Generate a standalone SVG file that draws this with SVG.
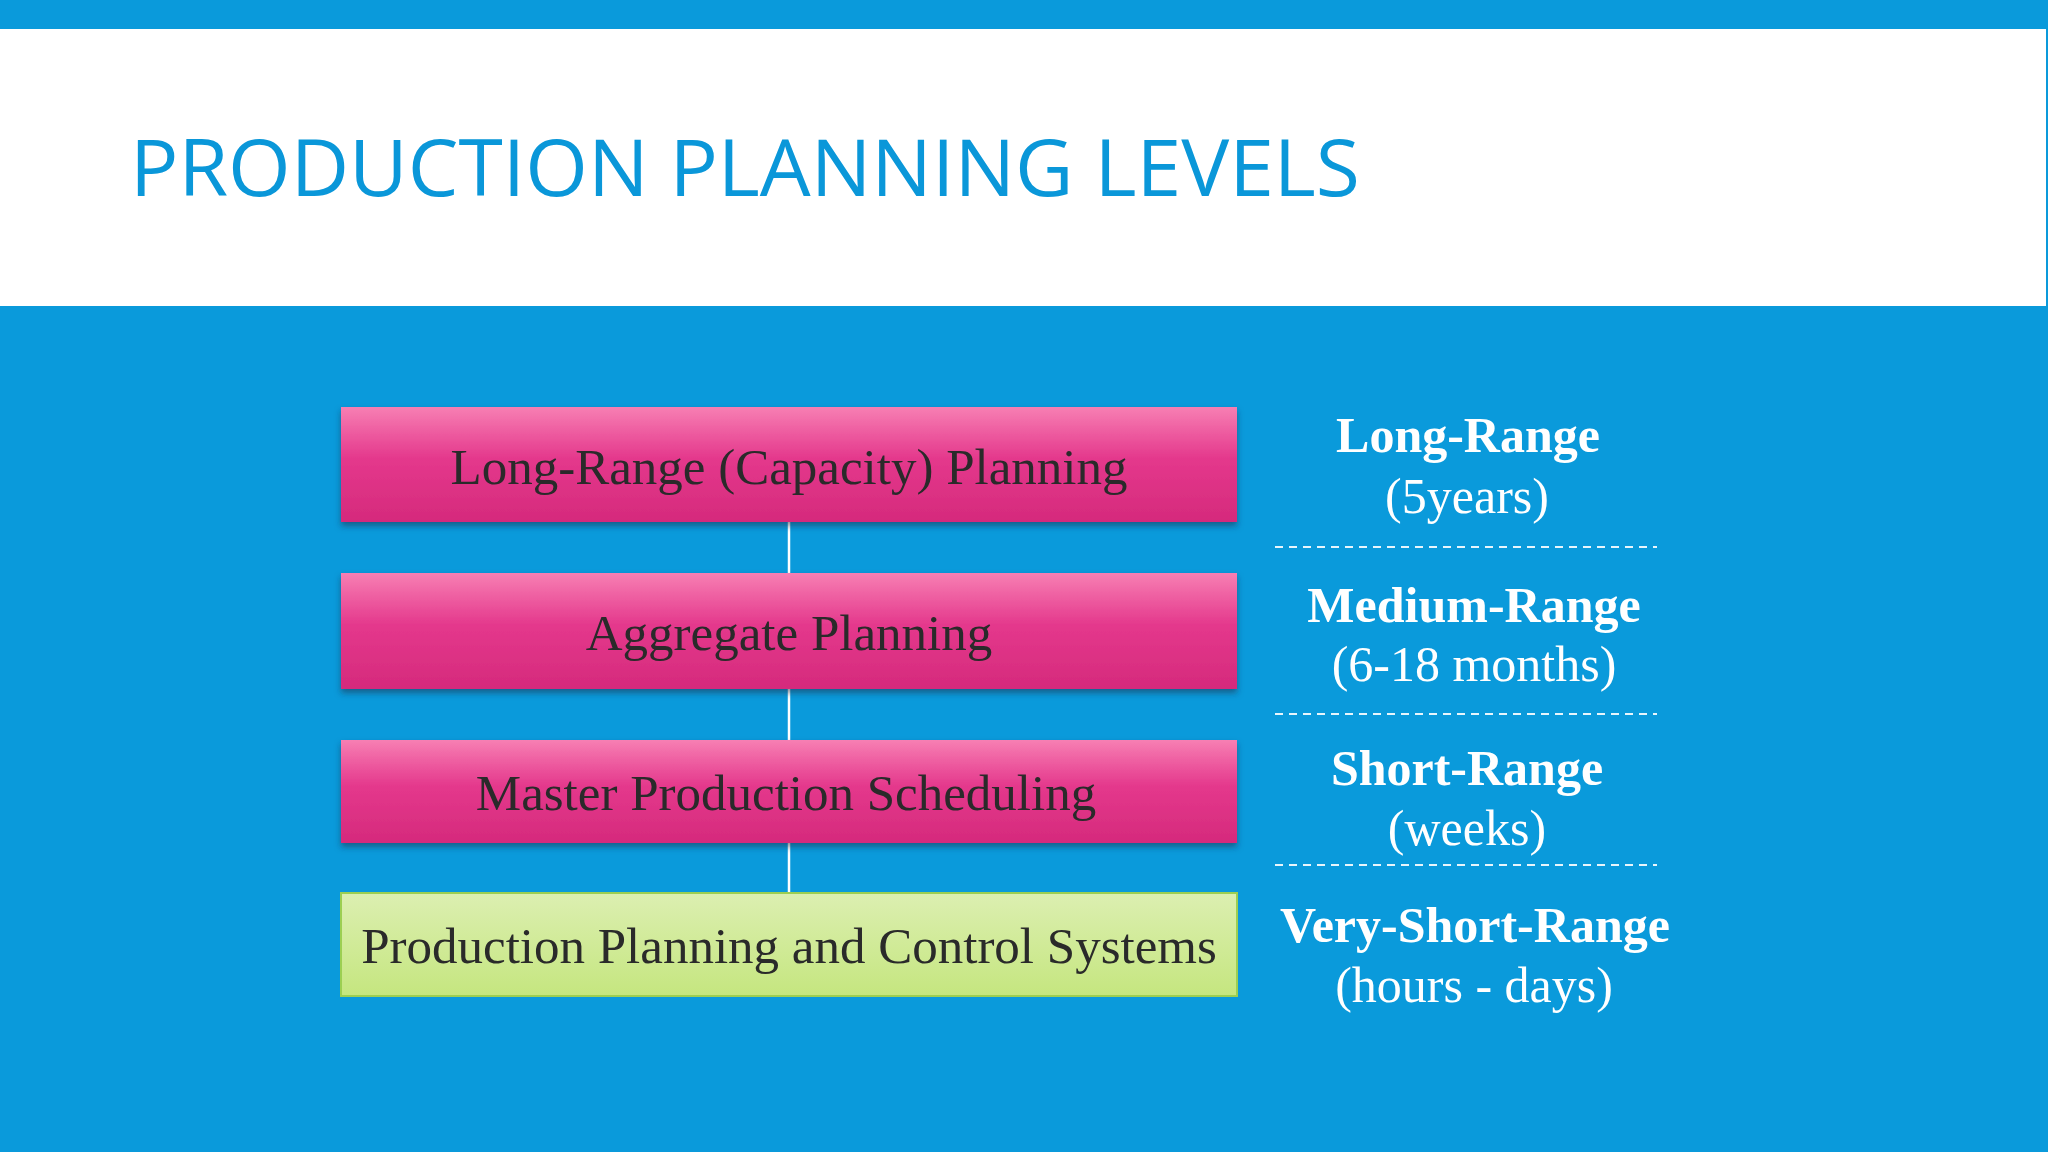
<svg xmlns="http://www.w3.org/2000/svg" width="2048" height="1152" viewBox="0 0 2048 1152">
  <style>
    .box-text { font-family: "Liberation Serif", "Times New Roman", serif; font-size: 51px; fill: #2a2a2a; text-anchor: middle; }
    .lbl-b { font-family: "Liberation Serif", "Times New Roman", serif; font-size: 50px; font-weight: bold; fill: #ffffff; text-anchor: middle; }
    .lbl-r { font-family: "Liberation Serif", "Times New Roman", serif; font-size: 50px; fill: #ffffff; text-anchor: middle; }
    .conn { stroke: #ffffff; stroke-width: 2.5; fill: none; }
    .dash { stroke: #ffffff; stroke-width: 2; stroke-dasharray: 8 6; fill: none; opacity: 0.9; }
    .pink { fill: url(#pinkGrad); filter: url(#shadow); }
    .green { fill: url(#greenGrad); stroke: #9ccf52; stroke-width: 2; }
  </style>
  <defs>
    <linearGradient id="pinkGrad" x1="0" y1="0" x2="0" y2="1">
      <stop offset="0" stop-color="#f77fb3"/>
      <stop offset="0.45" stop-color="#e4388c"/>
      <stop offset="1" stop-color="#d52a7c"/>
    </linearGradient>
    <linearGradient id="greenGrad" x1="0" y1="0" x2="0" y2="1">
      <stop offset="0" stop-color="#dcefb1"/>
      <stop offset="1" stop-color="#c5e67f"/>
    </linearGradient>
    <filter id="shadow" x="-5%" y="-20%" width="110%" height="150%">
      <feDropShadow dx="0" dy="4" stdDeviation="3" flood-color="#1b2f4a" flood-opacity="0.55"/>
    </filter>
  </defs>

  <rect x="0" y="0" width="2048" height="1152" fill="#0a9adb"/>
  <rect x="0" y="29" width="2046" height="277" fill="#ffffff"/>
  <text x="130" y="196" font-family="'Open Sans', 'Noto Sans', sans-serif" font-size="78" font-weight="400" fill="#0a97d9" textLength="1230" lengthAdjust="spacingAndGlyphs">PRODUCTION PLANNING LEVELS</text>

  <g id="connectors">
    <line class="conn" x1="789" y1="522" x2="789" y2="573"/>
    <line class="conn" x1="789" y1="689" x2="789" y2="740"/>
    <line class="conn" x1="789" y1="843" x2="789" y2="893"/>
  </g>

  <g id="node-long-range">
    <rect class="pink" x="341" y="407" width="896" height="115"/>
    <text class="box-text" x="789" y="484">Long-Range (Capacity) Planning</text>
  </g>
  <g id="node-aggregate">
    <rect class="pink" x="341" y="573" width="896" height="116"/>
    <text class="box-text" x="789" y="650">Aggregate Planning</text>
  </g>
  <g id="node-mps">
    <rect class="pink" x="341" y="740" width="896" height="103"/>
    <text class="box-text" x="786" y="810">Master Production Scheduling</text>
  </g>
  <g id="node-ppc">
    <rect class="green" x="341" y="893" width="896" height="103"/>
    <text class="box-text" x="789" y="963">Production Planning and Control Systems</text>
  </g>

  <g id="range-labels">
    <text class="lbl-b" x="1468" y="452">Long-Range</text>
    <text class="lbl-r" x="1467" y="513">(5years)</text>
    <line class="dash" x1="1275" y1="547" x2="1657" y2="547"/>
    <text class="lbl-b" x="1474" y="622">Medium-Range</text>
    <text class="lbl-r" x="1474" y="681">(6-18 months)</text>
    <line class="dash" x1="1275" y1="714" x2="1657" y2="714"/>
    <text class="lbl-b" x="1467" y="785">Short-Range</text>
    <text class="lbl-r" x="1467" y="845">(weeks)</text>
    <line class="dash" x1="1275" y1="865" x2="1657" y2="865"/>
    <text class="lbl-b" x="1475" y="942">Very-Short-Range</text>
    <text class="lbl-r" x="1474" y="1002">(hours - days)</text>
  </g>
</svg>
